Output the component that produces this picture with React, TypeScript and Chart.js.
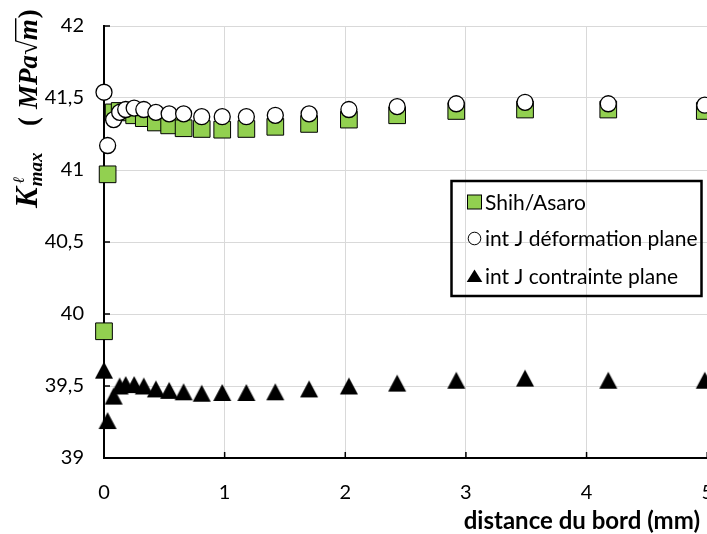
import React, { useEffect, useRef } from 'react';
import { Chart, registerables } from 'chart.js';

Chart.register(...registerables);

// ---- data ----
const distance = [0, 0.03, 0.08, 0.13, 0.18, 0.25, 0.33, 0.43, 0.54, 0.66, 0.81, 0.98, 1.18, 1.42, 1.70, 2.03, 2.43, 2.92, 3.49, 4.18, 4.98];
const shihAsaro = [39.88, 40.97, 41.40, 41.41, 41.40, 41.38, 41.36, 41.33, 41.31, 41.29, 41.285, 41.28, 41.285, 41.30, 41.32, 41.35, 41.38, 41.41, 41.42, 41.42, 41.41];
const intJDeformation = [41.54, 41.17, 41.35, 41.40, 41.42, 41.43, 41.42, 41.40, 41.39, 41.39, 41.37, 41.37, 41.37, 41.38, 41.39, 41.42, 41.44, 41.46, 41.47, 41.46, 41.45];
const intJContrainte = [39.61, 39.26, 39.43, 39.50, 39.51, 39.51, 39.50, 39.48, 39.47, 39.46, 39.45, 39.455, 39.455, 39.46, 39.48, 39.50, 39.52, 39.54, 39.555, 39.54, 39.54];

const seriesLabels = ['Shih/Asaro', 'int J déformation plane', 'int J contrainte plane'];
const xTicks = [0, 1, 2, 3, 4, 5];
const yTicks = [39, 39.5, 40, 40.5, 41, 41.5, 42];
const xTitle = 'distance du bord (mm)';

const SANS = 'Lato, "Open Sans", sans-serif';
const SERIF = '"Liberation Serif", "DejaVu Serif", serif';
const GREEN = '#92d050';

function makeTriangle(w: number, h: number, color: string) {
  const c = document.createElement('canvas');
  c.width = w + 2;
  c.height = h + 2;
  const g = c.getContext('2d')!;
  g.fillStyle = color;
  g.beginPath();
  g.moveTo(c.width / 2, 1);
  g.lineTo(c.width - 1, h + 1);
  g.lineTo(1, h + 1);
  g.closePath();
  g.fill();
  return c;
}

function zeroPadding(s: any) {
  s.paddingTop = 0;
  s.paddingBottom = 0;
  s.paddingLeft = 0;
  s.paddingRight = 0;
}

const decorPlugin = {
  id: 'decor',
  beforeDatasetsDraw(chart: any) {
    const { ctx, chartArea, scales } = chart;
    ctx.save();
    ctx.strokeStyle = '#000';
    ctx.lineWidth = 1.5;
    ctx.beginPath();
    yTicks.forEach((v) => {
      const py = scales.y.getPixelForValue(v);
      ctx.moveTo(chartArea.left, py);
      ctx.lineTo(chartArea.left + 6, py);
    });
    xTicks.forEach((v) => {
      const px = scales.x.getPixelForValue(v);
      ctx.moveTo(px, chartArea.bottom);
      ctx.lineTo(px, chartArea.bottom - 6);
    });
    ctx.stroke();
    ctx.restore();
  },
  afterDraw(chart: any) {
    const { ctx } = chart;
    // ---- y axis title: K^l_max (MPa sqrt m) ----
    ctx.save();
    ctx.translate(37, 208);
    ctx.rotate(-Math.PI / 2);
    ctx.fillStyle = '#000';
    ctx.strokeStyle = '#000';
    ctx.textBaseline = 'alphabetic';
    ctx.textAlign = 'left';
    ctx.font = `italic bold 31px ${SERIF}`;
    ctx.fillText('K', 0, 0);
    let x = ctx.measureText('K').width + 1;
    ctx.font = `italic bold 16px ${SERIF}`;
    ctx.fillText('ℓ', x + 3, -13);
    ctx.font = `italic bold 19px ${SERIF}`;
    ctx.fillText('max', x, 5);
    x = 82;
    ctx.font = `bold 27px ${SERIF}`;
    ctx.fillText('(', x, 0);
    x = 99;
    ctx.font = `italic bold 27px ${SERIF}`;
    ctx.fillText('MPa', x, 0);
    x += ctx.measureText('MPa').width;
    ctx.font = `bold 27px ${SERIF}`;
    const rm = ctx.measureText('√');
    ctx.fillText('√', x, 0);
    const top = -rm.actualBoundingBoxAscent;
    x += rm.width;
    ctx.font = `italic bold 27px ${SERIF}`;
    const mw = ctx.measureText('m').width;
    ctx.fillText('m', x, 0);
    ctx.lineWidth = 1.4;
    ctx.beginPath();
    ctx.moveTo(x - 1, top + 0.7);
    ctx.lineTo(x + mw + 1, top + 0.7);
    ctx.stroke();
    x += mw + 1;
    ctx.font = `bold 27px ${SERIF}`;
    ctx.fillText(')', x, 0);
    ctx.restore();

    // ---- x axis title ----
    ctx.save();
    ctx.fillStyle = '#000';
    ctx.font = `bold 24px ${SANS}`;
    ctx.textAlign = 'right';
    ctx.textBaseline = 'middle';
    ctx.fillText(xTitle, 700, 521);
    ctx.restore();

    // ---- legend ----
    ctx.save();
    ctx.strokeStyle = '#000';
    ctx.lineWidth = 2.5;
    ctx.strokeRect(451.5, 181, 250, 115);
    const rows = [202, 238.5, 276];
    const mx = 474.5;
    ctx.fillStyle = GREEN;
    ctx.lineWidth = 1;
    ctx.fillRect(mx - 7, rows[0] - 7, 14, 14);
    ctx.strokeRect(mx - 7, rows[0] - 7, 14, 14);
    ctx.fillStyle = '#fff';
    ctx.beginPath();
    ctx.arc(mx, rows[1], 6.3, 0, Math.PI * 2);
    ctx.fill();
    ctx.stroke();
    ctx.fillStyle = '#000';
    ctx.beginPath();
    ctx.moveTo(mx, rows[2] - 6.5);
    ctx.lineTo(mx + 7.8, rows[2] + 6);
    ctx.lineTo(mx - 7.8, rows[2] + 6);
    ctx.closePath();
    ctx.fill();
    ctx.font = `21px ${SANS}`;
    ctx.textAlign = 'left';
    ctx.textBaseline = 'middle';
    seriesLabels.forEach((t, i) => ctx.fillText(t, 485, rows[i] + 1));
    ctx.restore();
  },
};

export default function App() {
  const ref = useRef<HTMLCanvasElement | null>(null);
  useEffect(() => {
    if (!ref.current) return;
    const tri = makeTriangle(18, 17, '#000');
    const pts = (ys: number[]) => distance.map((x, i) => ({ x, y: ys[i] }));
    const chart = new Chart(ref.current, {
      type: 'scatter',
      data: {
        datasets: [
          {
            label: seriesLabels[0],
            data: pts(shihAsaro),
            pointStyle: 'rect',
            pointRadius: 11.8,
            pointHoverRadius: 11.8,
            backgroundColor: GREEN,
            borderColor: '#000',
            pointBorderWidth: 1,
            borderWidth: 1,
            order: 3,
            clip: false as any,
          },
          {
            label: seriesLabels[1],
            data: pts(intJDeformation),
            pointStyle: 'circle',
            pointRadius: 8,
            pointHoverRadius: 8,
            backgroundColor: '#fff',
            borderColor: '#000',
            pointBorderWidth: 1.3,
            borderWidth: 1.3,
            order: 2,
            clip: false as any,
          },
          {
            label: seriesLabels[2],
            data: pts(intJContrainte),
            pointStyle: tri as any,
            pointRadius: 9,
            pointHoverRadius: 9,
            backgroundColor: '#000',
            borderColor: '#000',
            order: 1,
            clip: false as any,
          },
        ],
      },
      options: {
        responsive: false,
        animation: false,
        devicePixelRatio: 1,
        layout: { padding: { top: 26, right: 12.5, left: 0, bottom: 0 } },
        plugins: {
          legend: { display: false },
          tooltip: { enabled: false },
        },
        scales: {
          x: {
            type: 'linear',
            min: 0,
            max: 5,
            afterFit(s: any) { s.height = 76; zeroPadding(s); },
            afterBuildTicks(s: any) { s.ticks = xTicks.map((v) => ({ value: v })); },
            ticks: {
              color: '#000',
              font: { family: SANS, size: 20 },
              padding: 23,
              maxRotation: 0,
              autoSkip: false,
              callback: (v: any) => String(v),
            },
            grid: { color: '#d9d9d9', lineWidth: 1, drawTicks: false },
            border: { color: '#000', width: 2 },
          },
          y: {
            type: 'linear',
            min: 39,
            max: 42,
            afterFit(s: any) { s.width = 104; zeroPadding(s); },
            afterBuildTicks(s: any) { s.ticks = yTicks.map((v) => ({ value: v })); },
            ticks: {
              color: '#000',
              font: { family: SANS, size: 20 },
              padding: 20,
              autoSkip: false,
              callback: (v: any) => String(v).replace('.', ','),
            },
            grid: { color: '#d9d9d9', lineWidth: 1, drawTicks: false },
            border: { color: '#000', width: 2 },
          },
        },
      } as any,
      plugins: [decorPlugin],
    });
    return () => chart.destroy();
  }, []);

  return (
    <div
      style={{
        position: 'fixed',
        left: 0,
        top: 0,
        width: 707,
        height: 534,
        overflow: 'hidden',
        background: '#fff',
      }}
    >
      <canvas ref={ref} width={720} height={534} style={{ display: 'block' }} />
    </div>
  );
}
